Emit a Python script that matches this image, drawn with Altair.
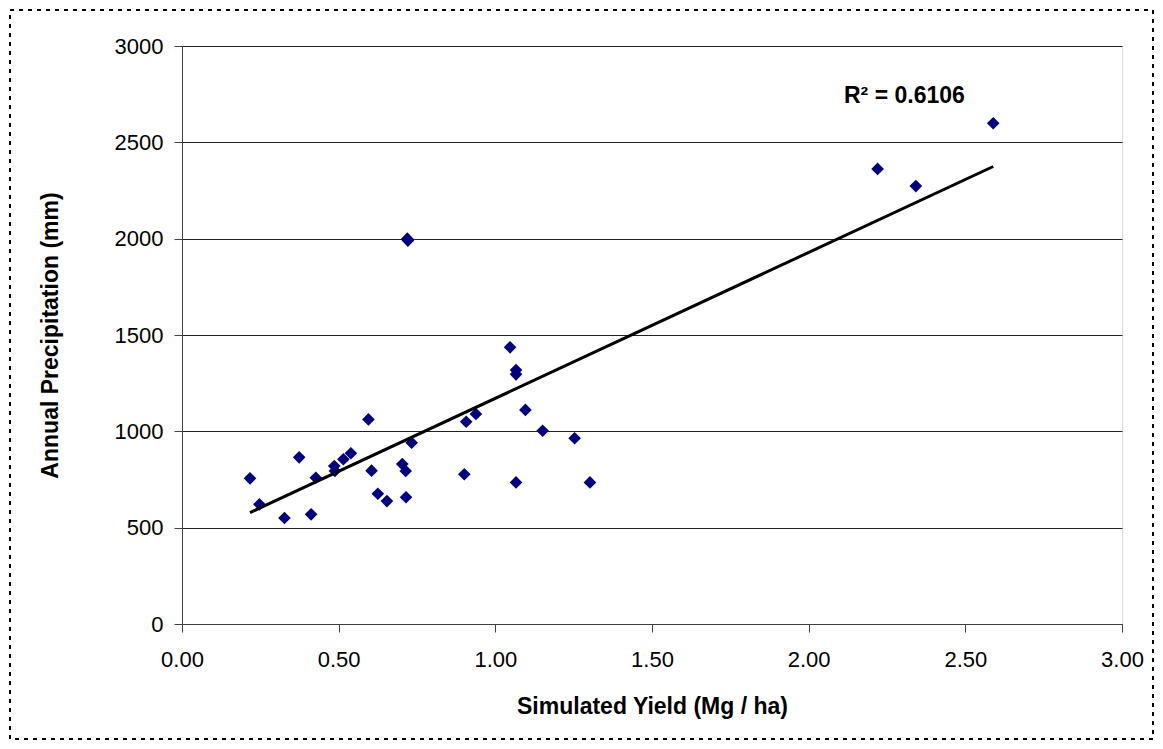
import altair as alt
import pandas as pd

# Simulated yield (Mg/ha) and annual precipitation (mm)
yield_mg_ha = [0.217, 0.247, 0.327, 0.374, 0.412, 0.427, 0.486, 0.488, 0.515, 0.539,
               0.595, 0.605, 0.625, 0.654, 0.703, 0.714, 0.715, 0.719, 0.721, 0.733,
               0.901, 0.907, 0.938, 1.047, 1.066, 1.066, 1.096, 1.151, 1.253, 1.066,
               1.302, 2.220, 2.342, 2.589]
precip_mm = [756, 621, 550, 865, 569, 759, 820, 794, 855, 886,
             1062, 796, 676, 638, 830, 794, 658, 2000, 1990, 941,
             777, 1050, 1090, 1436, 1318, 1296, 1111, 1003, 964, 735,
             735, 2362, 2273, 2599]
x_ticks = [0, 0.5, 1.0, 1.5, 2.0, 2.5, 3.0]
y_ticks = [0, 500, 1000, 1500, 2000, 2500, 3000]
r2_label = "R² = 0.6106"

df = pd.DataFrame({"yield": yield_mg_ha, "precip": precip_mm})
FONT = "Liberation Sans"

x_enc = alt.X("yield:Q",
              scale=alt.Scale(domain=[0, 3], nice=False, zero=True),
              axis=alt.Axis(values=x_ticks, format=".2f", grid=False,
                            title="Simulated Yield (Mg / ha)",
                            labelFontSize=22, titleFontSize=23, titleFontWeight="bold",
                            tickSize=8, labelPadding=17, titlePadding=25,
                            domainColor="#404040", tickColor="#404040",
                            labelColor="black", titleColor="black",
                            labelFont=FONT, titleFont=FONT, labelFlush=False))
y_enc = alt.Y("precip:Q",
              scale=alt.Scale(domain=[0, 3000], nice=False),
              axis=alt.Axis(values=y_ticks, format="d", grid=True,
                            gridColor="#222222", gridWidth=1,
                            title="Annual Precipitation (mm)",
                            labelFontSize=22, titleFontSize=23, titleFontWeight="bold",
                            tickSize=8, labelPadding=11, titlePadding=52,
                            domainColor="#404040", tickColor="#404040",
                            labelColor="black", titleColor="black",
                            labelFont=FONT, titleFont=FONT, labelFlush=False))

base = alt.Chart(df)

points = base.mark_point(shape="diamond", filled=True, size=160, color="#000080",
                         opacity=1).encode(x=x_enc, y=y_enc)

trend = base.transform_regression("yield", "precip", method="linear").mark_line(
    color="black", strokeWidth=3).encode(x="yield:Q", y="precip:Q")

label_df = pd.DataFrame({"label": [r2_label]})
r2_text = alt.Chart(label_df).mark_text(
    align="left", baseline="alphabetic", fontSize=23, fontWeight="bold",
    font=FONT, color="black").encode(
    x=alt.value(662), y=alt.value(57), text="label:N")

frame = alt.Chart(label_df).mark_rect(
    fill=None, stroke="black", strokeDash=[4, 5], strokeWidth=2).encode(
    x=alt.value(-172), x2=alt.value(971), y=alt.value(-36), y2=alt.value(693))

chart = alt.layer(points, trend, r2_text, frame).properties(
    width=940, height=578,
    padding={"left": 174, "top": 38, "right": 32, "bottom": 116},
    autosize=alt.AutoSizeParams(type="none"),
).configure_view(stroke="#888888", strokeWidth=1.5).configure(background="white")

chart.save("out.html", embed_options={"renderer": "svg", "actions": False})
